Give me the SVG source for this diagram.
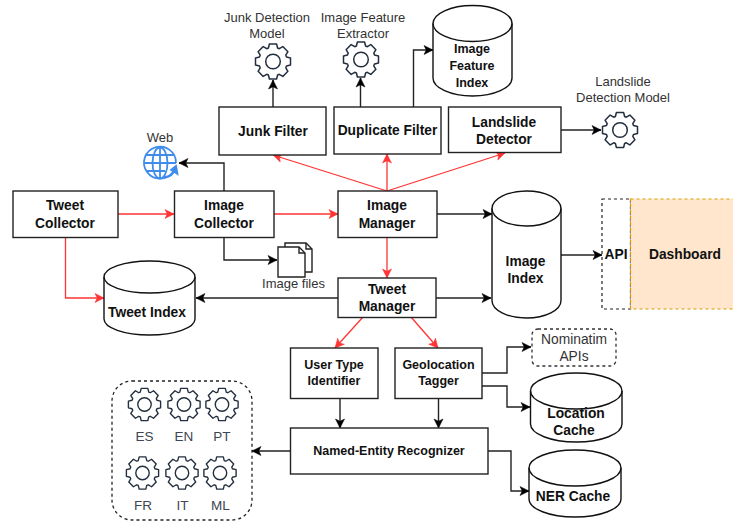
<svg xmlns="http://www.w3.org/2000/svg" width="733" height="523" viewBox="0 0 733 523">
<style>
text{font-family:"Liberation Sans",Arial,sans-serif;text-anchor:middle}
.b{font-weight:700;font-size:13.8px;fill:#111}
.m{font-weight:700;font-size:12.5px;fill:#111}
.l{font-size:13px;fill:#333}
.n{font-size:13.8px;fill:#333}
.s{font-size:13.5px;fill:#3d4652}
.box{fill:#fff;stroke:#222;stroke-width:1.4}
.cyl{fill:#fff;stroke:#111;stroke-width:1.4}
.top{fill:none;stroke:#111;stroke-width:1.4}
.k{fill:none;stroke:#222;stroke-width:1.4}
.r{fill:none;stroke:#ff3333;stroke-width:1.3}
.ka{marker-end:url(#ah)}
.ra{marker-end:url(#rh)}
.gear{fill:none;stroke:#232f3e;stroke-width:1.5;stroke-linejoin:round}
</style>
<defs>
<marker id="ah" markerUnits="userSpaceOnUse" markerWidth="12" markerHeight="12" refX="10" refY="6" orient="auto"><path d="M1,1.500 L10,6 L1,10.500 L3.200,6 Z" fill="#000" stroke="#000" stroke-width=".5"/></marker>
<marker id="rh" markerUnits="userSpaceOnUse" markerWidth="12" markerHeight="12" refX="10" refY="6" orient="auto"><path d="M1,1.500 L10,6 L1,10.500 L3.200,6 Z" fill="#ff3333" stroke="#ff3333" stroke-width=".5"/></marker>
<symbol id="gear" overflow="visible">
<path class="gear" d="M-4.600,-13.500L-3.600,-17.500L3.600,-17.500L4.600,-13.500L6.290,-12.800L9.830,-14.920L14.920,-9.830L12.800,-6.290L13.500,-4.600L17.500,-3.600L17.500,3.600L13.500,4.600L12.800,6.290L14.920,9.830L9.830,14.920L6.290,12.800L4.600,13.500L3.600,17.500L-3.600,17.500L-4.600,13.500L-6.290,12.800L-9.830,14.920L-14.920,9.830L-12.800,6.290L-13.500,4.600L-17.500,3.600L-17.500,-3.600L-13.500,-4.600L-12.800,-6.290L-14.920,-9.830L-9.830,-14.920L-6.290,-12.800Z"/>
<circle class="gear" r="7.300"/>
</symbol>
</defs>
<rect width="733" height="523" fill="#fff"/>

<g id="connectors">
<path class="k ka" d="M273,107V80"/>
<path class="k ka" d="M360.500,107V78"/>
<path class="k ka" d="M413.500,107V50H433"/>
<path class="k ka" d="M561,130H601"/>
<path class="k ka" d="M224,191V163H179"/>
<path class="k ka" d="M224,237V260H277"/>
<path class="k ka" d="M437,214H492"/>
<path class="k ka" d="M436,298H491"/>
<path class="k ka" d="M338,298H196"/>
<path class="k ka" d="M561,255H602"/>
<path class="k ka" d="M482,373H507V347H531"/>
<path class="k ka" d="M482,386H507V407H530"/>
<path class="k ka" d="M340,398V428"/>
<path class="k ka" d="M438.500,398V428"/>
<path class="k ka" d="M290,451H252"/>
<path class="k ka" d="M488,451H511V491H529"/>
<path class="r ra" d="M118,214H174"/>
<path class="r ra" d="M274,214H338"/>
<path class="r ra" d="M65.500,237V298H104"/>
<path class="r ra" d="M387,191L273,155"/>
<path class="r ra" d="M387,191V154"/>
<path class="r ra" d="M387,191L505,153"/>
<path class="r ra" d="M387,237V278"/>
<path class="r ra" d="M363,317L335,348"/>
<path class="r ra" d="M411,317L438,348"/>
</g>

<g id="junk-filter"><rect class="box" x="219" y="107" width="107" height="48"/><text class="b" x="273" y="136">Junk Filter</text></g>
<g id="duplicate-filter"><rect class="box" x="334" y="107" width="107" height="47"/><text class="b" x="387.500" y="135">Duplicate Filter</text></g>
<g id="landslide-detector"><rect class="box" x="448.500" y="107" width="112.500" height="45.500"/><text class="b" x="504" y="127">Landslide</text><text class="b" x="504" y="144">Detector</text></g>
<g id="junk-model"><text class="l" x="267" y="22">Junk Detection</text><text class="l" x="267" y="38">Model</text><use href="#gear" x="273" y="61.500"/></g>
<g id="feature-extractor"><text class="l" x="363" y="22">Image Feature</text><text class="l" x="363" y="38">Extractor</text><use href="#gear" x="361" y="59.500"/></g>
<g id="landslide-model"><text class="l" x="623" y="86">Landslide</text><text class="l" x="623" y="102">Detection Model</text><use href="#gear" x="620" y="130"/></g>
<g id="image-feature-index"><path class="cyl" d="M433,23.500A39.500,18 0 0 1 512,23.500V78A39.500,18 0 0 1 433,78Z"/><path class="top" d="M433,23.500A39.500,18 0 0 0 512,23.500"/><text class="m" x="472" y="53">Image</text><text class="m" x="472" y="70">Feature</text><text class="m" x="472" y="87">Index</text></g>
<g id="web"><text class="l" x="160" y="142">Web</text>
<g fill="none" stroke="#3f8ced" stroke-width="1.800"><path d="M173,172A16,16 0 1 1 176,163"/><ellipse cx="160" cy="163" rx="7.500" ry="15.500"/><path d="M160,148V178M146,155H174M144,163H176M146,171H165"/><path d="M164,177C170,177 174,174 175,168"/><path d="M171,170L176,166L177.500,174Z" fill="#3f8ced"/></g></g>

<g id="tweet-collector"><rect class="box" x="13" y="191" width="105" height="46.500"/><text class="b" x="65" y="210">Tweet</text><text class="b" x="65" y="228">Collector</text></g>
<g id="image-collector"><rect class="box" x="174.500" y="191" width="99.500" height="46.500"/><text class="b" x="224" y="210">Image</text><text class="b" x="224" y="228">Collector</text></g>
<g id="image-manager"><rect class="box" x="338" y="191" width="99" height="46.500"/><text class="b" x="387" y="210">Image</text><text class="b" x="387" y="228">Manager</text></g>
<g id="image-files">
<path class="box" d="M285,243H306L312,249V272H285Z"/><path class="k" d="M306,243V249H312"/>
<path class="box" d="M278,247H299L305,253V277H278Z"/><path class="k" d="M299,247V253H305"/>
<text class="l" x="293.500" y="288">Image files</text></g>
<g id="tweet-index"><path class="cyl" d="M104,277A45.500,16 0 0 1 195,277V319A45.500,16 0 0 1 104,319Z"/><path class="top" d="M104,277A45.500,16 0 0 0 195,277"/><text class="b" x="147" y="317">Tweet Index</text></g>
<g id="image-index"><path class="cyl" d="M492,208.500A34.500,17.500 0 0 1 561,208.500V300.500A34.500,17.500 0 0 1 492,300.500Z"/><path class="top" d="M492,208.500A34.500,17.500 0 0 0 561,208.500"/><text class="b" x="525.500" y="266">Image</text><text class="b" x="525.500" y="283">Index</text></g>
<g id="api"><rect x="602" y="199" width="28.500" height="110" fill="#fff" stroke="#222" stroke-width="1.200" stroke-dasharray="3 3"/><text class="b" x="616" y="259">API</text></g>
<g id="dashboard"><rect x="630.500" y="199" width="110" height="110" fill="#ffe6cc" stroke="#d79b00" stroke-width="1.200" stroke-dasharray="3 3"/><text class="b" x="685" y="259">Dashboard</text></g>
<g id="tweet-manager"><rect class="box" x="338" y="278" width="98" height="39.500"/><text class="b" x="387" y="294">Tweet</text><text class="b" x="387" y="311">Manager</text></g>
<g id="user-type-identifier"><rect class="box" x="290.500" y="348" width="87.500" height="50.500"/><text class="m" x="334" y="369">User Type</text><text class="m" x="334" y="385">Identifier</text></g>
<g id="geolocation-tagger"><rect class="box" x="395" y="348" width="87" height="50.500"/><text class="m" x="438.500" y="369">Geolocation</text><text class="m" x="438.500" y="385">Tagger</text></g>
<g id="ner"><rect class="box" x="290.500" y="428" width="197.500" height="46"/><text class="m" x="389" y="455">Named-Entity Recognizer</text></g>
<g id="nominatim"><rect x="532" y="329" width="84" height="37" rx="6" fill="#fff" stroke="#333" stroke-width="1.300" stroke-dasharray="3 3"/><text class="n" x="574" y="344">Nominatim</text><text class="n" x="574" y="361">APIs</text></g>
<g id="location-cache"><path class="cyl" d="M530.500,391A45.750,18 0 0 1 622,391V424A45.750,18 0 0 1 530.500,424Z"/><path class="top" d="M530.500,391A45.750,18 0 0 0 622,391"/><text class="b" x="576" y="418">Location</text><text class="b" x="574" y="435">Cache</text></g>
<g id="ner-cache"><path class="cyl" d="M529,468A46,18 0 0 1 621,468V499A46,18 0 0 1 529,499Z"/><path class="top" d="M529,468A46,18 0 0 0 621,468"/><text class="b" x="573" y="501">NER Cache</text></g>
<g id="language-models"><rect x="112" y="381" width="140" height="139" rx="20" fill="#fff" stroke="#222" stroke-width="1.300" stroke-dasharray="3 3"/>
<use href="#gear" transform="translate(144.500 404.500) scale(.92)"/><use href="#gear" transform="translate(184 404.500) scale(.92)"/><use href="#gear" transform="translate(222 404.500) scale(.92)"/>
<use href="#gear" transform="translate(142.500 473) scale(.92)"/><use href="#gear" transform="translate(182 473) scale(.92)"/><use href="#gear" transform="translate(220 473) scale(.92)"/>
<text class="s" x="144.500" y="441">ES</text><text class="s" x="184" y="441">EN</text><text class="s" x="222" y="441">PT</text>
<text class="s" x="143" y="510">FR</text><text class="s" x="182.500" y="510">IT</text><text class="s" x="220.500" y="510">ML</text></g>
</svg>
